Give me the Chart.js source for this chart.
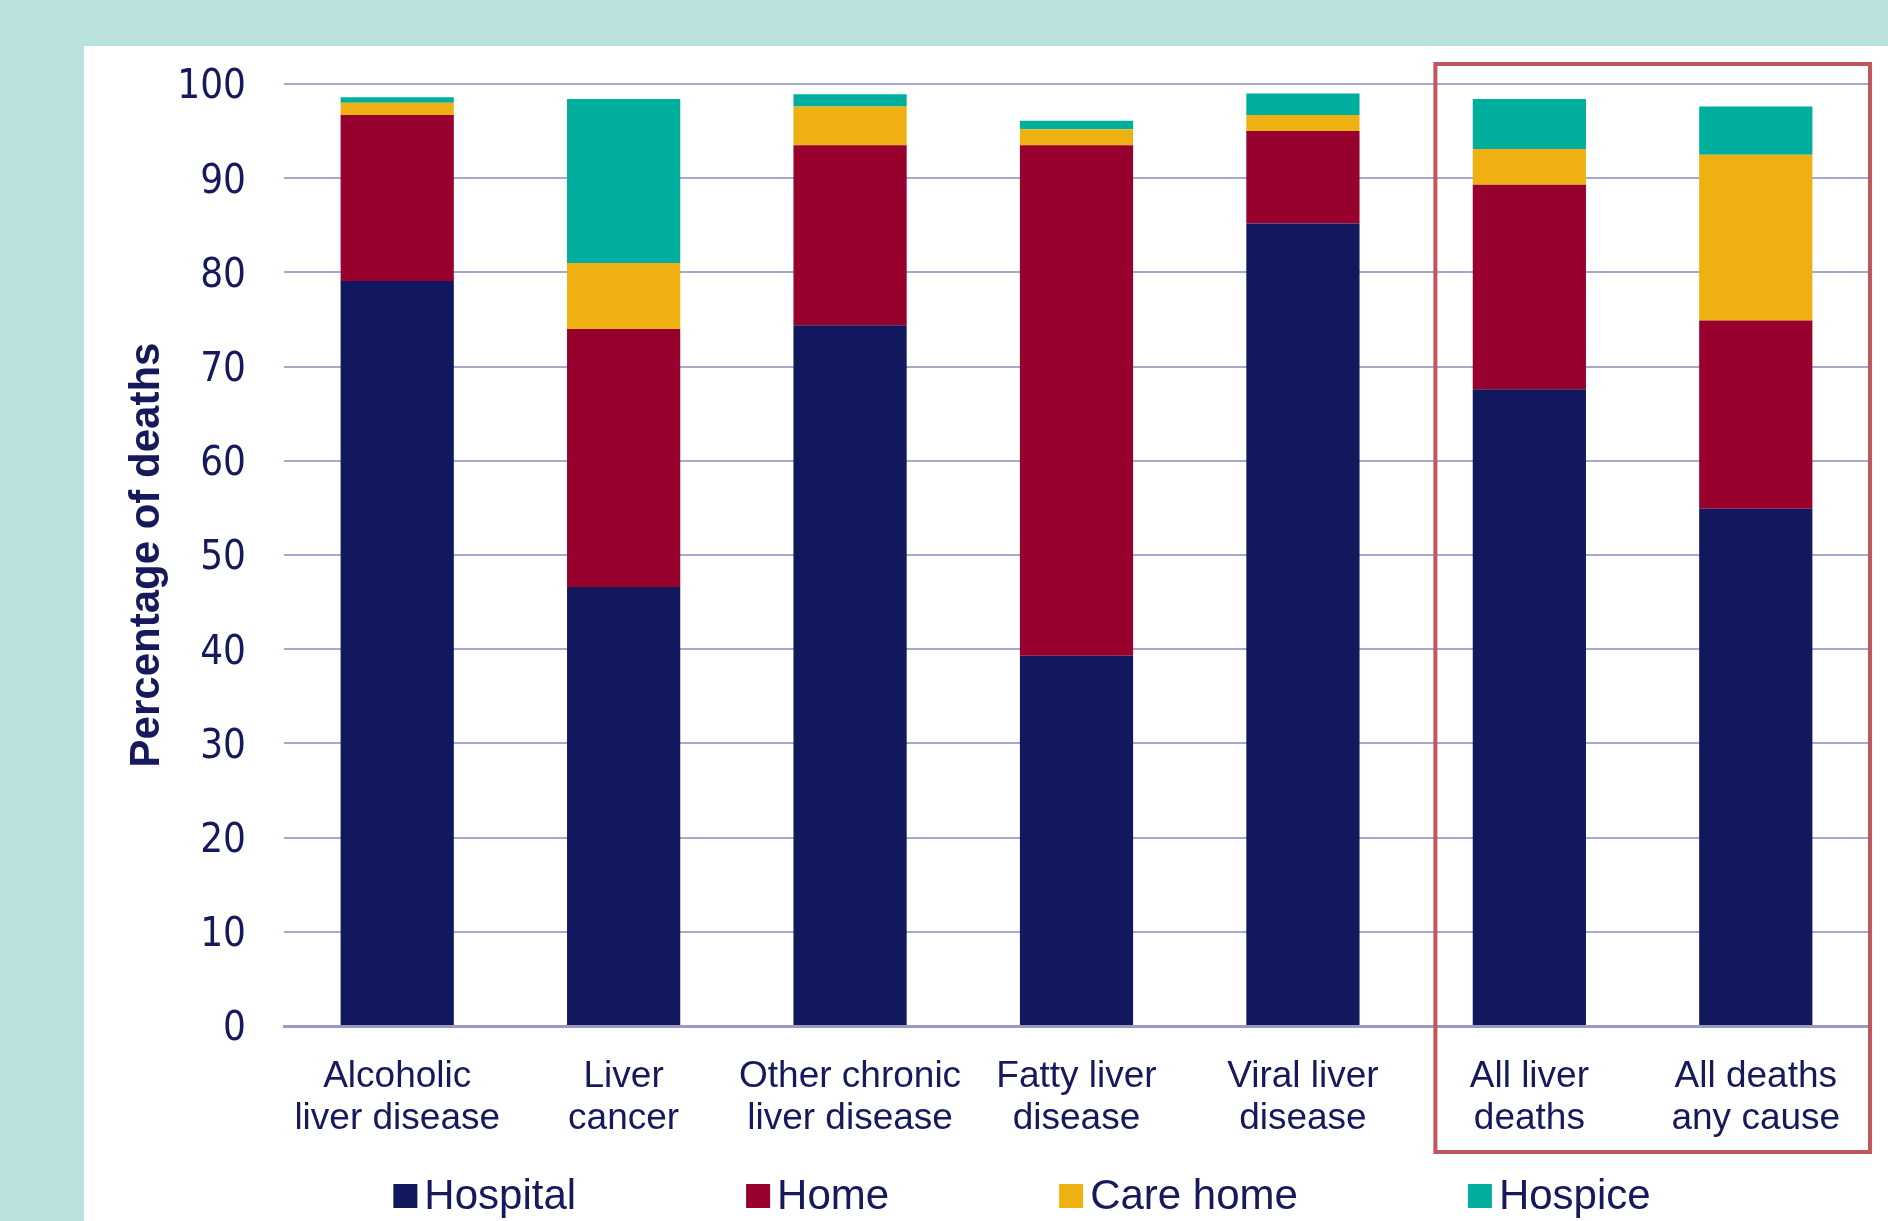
<!DOCTYPE html>
<html>
<head>
<meta charset="utf-8">
<script src="https://cdn.jsdelivr.net/npm/chart.js@4/dist/chart.umd.min.js"></script>
<style>
  html, body { margin: 0; padding: 0; background: #b9e2dd; width: 1888px; height: 1221px; overflow: hidden; }
  #panel { position: absolute; left: 84px; top: 46px; width: 1804px; height: 1175px; background: #ffffff; }
  #chart { display: block; }
</style>
</head>
<body>
<div id="panel"><canvas id="chart" width="1804" height="1175"></canvas></div>
<script>
// Place of death by cause, percentage of deaths
const categories = [
  ["Alcoholic", "liver disease"],
  ["Liver", "cancer"],
  ["Other chronic", "liver disease"],
  ["Fatty liver", "disease"],
  ["Viral liver", "disease"],
  ["All liver", "deaths"],
  ["All deaths", "any cause"]
];
const seriesNames = ["Hospital", "Home", "Care home", "Hospice"];
const hospital = [79.1, 46.6, 74.4, 39.3, 85.2, 67.6, 54.9];
const home     = [17.6, 27.4, 19.1, 54.2,  9.8, 21.7, 20.0];
const careHome = [ 1.3,  7.0,  4.1,  1.7,  1.7,  3.8, 17.6];
const hospice  = [ 0.6, 17.4,  1.3,  0.9,  2.3,  5.3,  5.1];
const yTicks   = [0, 10, 20, 30, 40, 50, 60, 70, 80, 90, 100];

const colours = ["#11185d", "#98002e", "#eeb111", "#00ae9d"];
const navy = "#161a5c";

// Outline around the two summary columns
const highlightBox = {
  id: "highlightBox",
  afterDraw(chart) {
    const x = chart.scales.x, y = chart.scales.y, ctx = chart.ctx;
    const catW = (x.right - x.left) / categories.length;
    const left = x.getPixelForValue(5) - 0.415 * catW;
    const right = chart.chartArea.right + 1;
    const top = y.getPixelForValue(100) - 20;
    const bottom = y.getPixelForValue(0) + 126;
    ctx.save();
    ctx.strokeStyle = "#c0575c";
    ctx.lineWidth = 4;
    ctx.strokeRect(left, top, right - left, bottom - top);
    ctx.restore();
  }
};

// Legend row drawn below the axis labels
const legendRow = {
  id: "legendRow",
  afterDraw(chart) {
    const ctx = chart.ctx;
    const font = "42px 'Liberation Sans', Arial, sans-serif";
    const box = 24, gapText = 7, gapItem = 170;
    ctx.save();
    ctx.font = font;
    const items = chart.data.datasets.map((d) => ({ label: d.label, color: d.backgroundColor, w: ctx.measureText(d.label).width }));
    let total = 0;
    items.forEach((it, i) => { total += box + gapText + it.w + (i < items.length - 1 ? gapItem : 0); });
    let xPos = 938 - total / 2;
    const yMid = 1150;
    items.forEach((it) => {
      ctx.fillStyle = it.color;
      ctx.fillRect(xPos, yMid - box / 2, box, box);
      ctx.fillStyle = navy;
      ctx.textAlign = "left";
      ctx.textBaseline = "middle";
      ctx.fillText(it.label, xPos + box + gapText, yMid + 1);
      xPos += box + gapText + it.w + gapItem;
    });
    ctx.restore();
  }
};

const values = [hospital, home, careHome, hospice];

new Chart(document.getElementById("chart"), {
  type: "bar",
  data: {
    labels: categories,
    datasets: seriesNames.map((name, i) => ({
      label: name,
      data: values[i],
      backgroundColor: colours[i],
      borderWidth: 0,
      categoryPercentage: 1.0,
      barPercentage: 0.5
    }))
  },
  options: {
    responsive: false,
    animation: false,
    devicePixelRatio: 1,
    layout: { padding: { left: 38, right: 19, top: 38, bottom: 51 } },
    plugins: {
      legend: { display: false },
      tooltip: { enabled: false }
    },
    scales: {
      x: {
        stacked: true,
        grid: { display: false, drawTicks: false },
        border: { display: true, color: "#9b9bc0", width: 3 },
        ticks: {
          color: navy,
          padding: 30,
          maxRotation: 0,
          autoSkip: false,
          font: { family: "'Liberation Sans', Arial, sans-serif", size: 37, lineHeight: 1.135 }
        }
      },
      y: {
        stacked: true,
        min: 0,
        max: 100,
        afterBuildTicks(scale) { scale.ticks = yTicks.map((v) => ({ value: v })); },
        afterFit(scale) { scale.width = 162; scale.paddingTop = 0; scale.paddingBottom = 0; },
        grid: { color: "#a8a8cc", lineWidth: 2, drawTicks: false },
        border: { display: false },
        ticks: {
          color: navy,
          padding: 38,
          labelOffset: 4,
          font: { family: "'DejaVu Sans Condensed', 'DejaVu Sans', Verdana, sans-serif", size: 40, lineHeight: 1.2 }
        },
        title: {
          display: true,
          text: "Percentage of deaths",
          color: navy,
          padding: { top: 0, bottom: 7 },
          font: { family: "'Liberation Sans', Arial, sans-serif", size: 42, weight: "bold", lineHeight: 1.2 }
        }
      }
    }
  },
  plugins: [highlightBox, legendRow]
});
</script>
</body>
</html>
